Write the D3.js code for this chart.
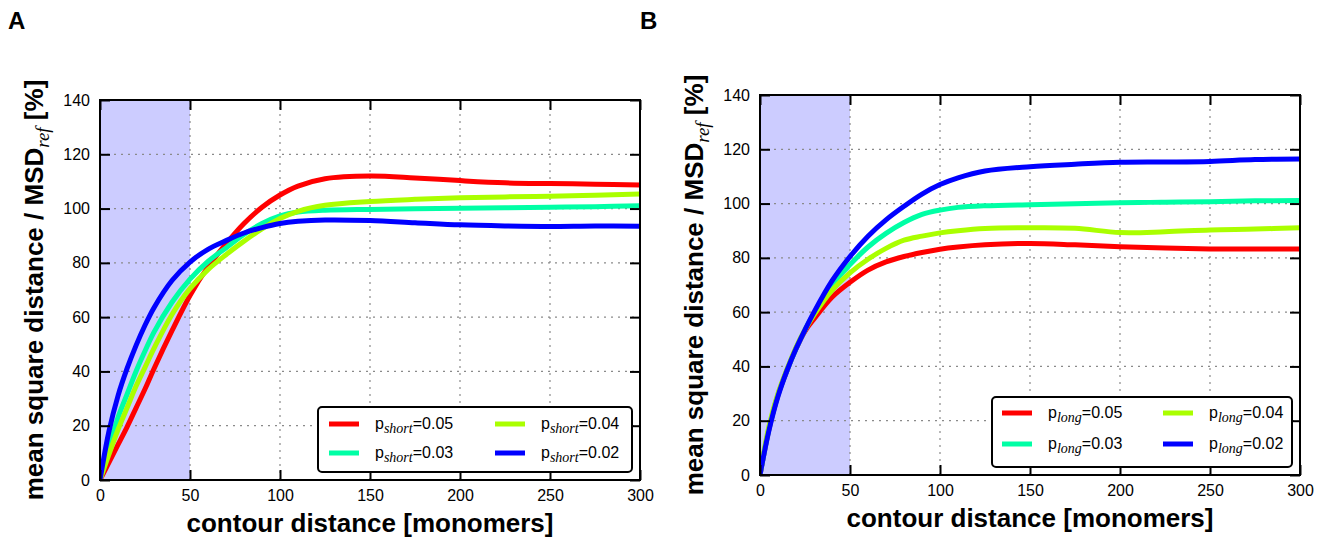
<!DOCTYPE html>
<html>
<head>
<meta charset="utf-8">
<script src="https://cdn.jsdelivr.net/npm/d3@7"></script>
<style>
  body { margin: 0; background: #fff; }
  svg text { font-family: "Liberation Sans", Arial, sans-serif; }
</style>
</head>
<body>
<div id="chart"></div>
<script>
// contour distance sample points (monomers)
const contour = [0, 5, 10, 15, 20, 25, 30, 40, 50, 60, 70, 80, 90, 100, 110, 125, 150, 175, 200, 225, 250, 275, 300];

// panel A: p_short series, MSD / MSD_ref [%]
const short005 = [0, 6.5, 13, 19.5, 26.5, 33.5, 41, 55, 68, 78.5, 87, 94.5, 100.5, 105, 108.3, 111, 112, 111.3, 110.3, 109.5, 109.2, 109, 108.7];
const short003 = [0, 12, 23, 31.5, 40, 47.5, 54.5, 65.5, 74, 80.5, 85.5, 90.5, 94.5, 97.3, 98.7, 99.4, 99.7, 99.9, 100.1, 100.3, 100.5, 100.7, 101];
const short004 = [0, 9.5, 18.5, 26.5, 34.5, 41.5, 48.5, 61, 70.5, 77.5, 83, 88, 92.5, 96.3, 99, 101.2, 102.6, 103.4, 104, 104.3, 104.5, 104.9, 105.4];
const short002 = [0, 18, 31, 41, 49.5, 57, 63.5, 73.5, 80.3, 85, 88.2, 91, 93, 94.5, 95.3, 95.8, 95.6, 94.8, 94, 93.6, 93.4, 93.6, 93.5];

// panel B: p_long series
const long005 = [0, 17, 29.5, 38.5, 46.5, 53, 57.5, 65.5, 71, 75.5, 78.5, 80.5, 82, 83.2, 84, 84.8, 85.3, 84.8, 84.1, 83.6, 83.3, 83.3, 83.3];
const long003 = [0, 17, 29.5, 38.5, 46.5, 53.5, 59.5, 70, 77.5, 84, 89, 93, 96, 97.6, 98.6, 99.2, 99.6, 99.9, 100.3, 100.5, 100.7, 101, 101.1];
const long004 = [0, 18, 30, 39, 47, 53.5, 59, 68, 74.5, 79.5, 83.5, 86.5, 88, 89.2, 90, 90.8, 91.1, 90.9, 89.3, 89.6, 90.3, 90.6, 91.1];
const long002 = [0, 16.5, 29, 38.5, 46.5, 53.5, 60, 71.5, 80.5, 88, 94, 99, 103.5, 107, 109.5, 112, 113.6, 114.5, 115.2, 115.3, 115.5, 116.2, 116.4];

// legend values (same order as plotted)
const pLabels = ["0.05", "0.03", "0.04", "0.02"];
const xTicks = [0, 50, 100, 150, 200, 250, 300];
const yTicks = [0, 20, 40, 60, 80, 100, 120, 140];
const shadedRange = [0, 50];

const colors = ["#ff0000", "#00ffa5", "#aaff00", "#0000ff"];

const svg = d3.select('#chart')
  .append('svg')
  .attr('width', 1327)
  .attr('height', 546);

function drawPanel(opt) {
  const width = opt.right - opt.left;
  const height = opt.bottom - opt.top;

  const x = d3.scaleLinear().domain([0, 300]).range([0, width]);
  const y = d3.scaleLinear().domain([0, 140]).range([height, 0]);

  const g = svg.append('g')
    .attr('transform', 'translate(' + opt.left + ',' + opt.top + ')');

  // shaded region
  g.append('rect')
    .attr('x', x(shadedRange[0]))
    .attr('y', 0)
    .attr('width', x(shadedRange[1]) - x(shadedRange[0]))
    .attr('height', height)
    .attr('fill', '#ccccff');

  // dotted grid
  g.selectAll('.hgrid')
    .data(yTicks.slice(1, -1))
    .enter().append('line')
    .attr('x1', 0).attr('x2', width)
    .attr('y1', d => y(d)).attr('y2', d => y(d))
    .attr('stroke', '#8a8a8a')
    .attr('stroke-width', 1.2)
    .attr('stroke-dasharray', '2,5');
  g.selectAll('.vgrid')
    .data(xTicks.slice(1, -1))
    .enter().append('line')
    .attr('y1', 0).attr('y2', height)
    .attr('x1', d => x(d)).attr('x2', d => x(d))
    .attr('stroke', '#8a8a8a')
    .attr('stroke-width', 1.2)
    .attr('stroke-dasharray', '2,5');

  // curves
  g.append('clipPath').attr('id', 'clip' + opt.name)
    .append('rect').attr('width', width).attr('height', height);

  const line = d3.line()
    .x((d, i) => x(contour[i]))
    .y(d => y(d))
    .curve(d3.curveCatmullRom.alpha(0.5));

  g.append('g')
    .attr('clip-path', 'url(#clip' + opt.name + ')')
    .selectAll('path')
    .data(opt.series)
    .enter().append('path')
    .attr('d', d => line(d))
    .attr('fill', 'none')
    .attr('stroke', (d, i) => colors[i])
    .attr('stroke-width', 5);

  // axes with inward ticks
  const axL = g.append('g')
    .call(d3.axisLeft(y).tickValues(yTicks).tickSize(-10).tickPadding(10));
  const axB = g.append('g')
    .attr('transform', 'translate(0,' + height + ')')
    .call(d3.axisBottom(x).tickValues(xTicks).tickSize(-10).tickPadding(10));
  const axR = g.append('g')
    .attr('transform', 'translate(' + width + ',0)')
    .call(d3.axisRight(y).tickValues(yTicks).tickSize(-10).tickFormat(''));
  const axT = g.append('g')
    .call(d3.axisTop(x).tickValues(xTicks).tickSize(-10).tickFormat(''));

  [axL, axB, axR, axT].forEach(a => {
    a.select('.domain').remove();
    a.selectAll('line').attr('stroke', '#000').attr('stroke-width', 2);
    a.selectAll('text').attr('font-size', 16).attr('fill', '#000')
      .style('font-family', '"Liberation Sans", Arial, sans-serif');
  });

  // frame
  g.append('rect')
    .attr('width', width).attr('height', height)
    .attr('fill', 'none')
    .attr('stroke', '#000')
    .attr('stroke-width', 2);

  // x title
  g.append('text')
    .attr('x', width / 2)
    .attr('y', height + 52)
    .attr('text-anchor', 'middle')
    .attr('font-size', 26)
    .attr('font-weight', 'bold')
    .text('contour distance [monomers]');

  // y title
  const yt = svg.append('text')
    .attr('transform', 'translate(' + opt.ytitleX + ',' + (opt.top + height / 2) + ') rotate(-90)')
    .attr('text-anchor', 'middle')
    .attr('font-size', 26)
    .attr('font-weight', 'bold');
  yt.append('tspan').text('mean square distance / MSD');
  yt.append('tspan').attr('dy', 6)
    .attr('font-size', 19).attr('font-weight', 'normal').attr('font-style', 'italic')
    .style('font-family', '"Liberation Serif", "Times New Roman", serif')
    .text('ref');
  yt.append('tspan').attr('dy', -6).text(' [%]');

  // panel letter
  svg.append('text')
    .attr('x', opt.letterX)
    .attr('y', 29)
    .attr('font-size', 24)
    .attr('font-weight', 'bold')
    .text(opt.name);

  // legend
  const lg = opt.legend;
  const leg = g.append('g')
    .attr('transform', 'translate(' + (width - 8 - lg.w) + ',' + (height - 8 - lg.h) + ')');
  leg.append('rect')
    .attr('width', lg.w).attr('height', lg.h)
    .attr('rx', 4)
    .attr('fill', '#fff')
    .attr('stroke', '#000')
    .attr('stroke-width', 2);

  pLabels.forEach((p, i) => {
    const col = Math.floor(i / 2);
    const row = i % 2;
    const ex = lg.col[col];
    const ey = lg.row[row];
    leg.append('line')
      .attr('x1', ex).attr('x2', ex + 30)
      .attr('y1', ey).attr('y2', ey)
      .attr('stroke', colors[i])
      .attr('stroke-width', 5);
    const t = leg.append('text')
      .attr('x', ex + 46)
      .attr('y', ey + 5)
      .attr('font-size', 16);
    t.append('tspan').text('p');
    t.append('tspan').attr('dy', 4)
      .attr('font-size', 14).attr('font-style', 'italic')
      .style('font-family', '"Liberation Serif", "Times New Roman", serif')
      .text(opt.sub);
    t.append('tspan').attr('dy', -4).text('=' + p);
  });
}

drawPanel({
  name: 'A', left: 100, right: 640, top: 100, bottom: 480,
  ytitleX: 43, letterX: 8, sub: 'short',
  series: [short005, short003, short004, short002],
  legend: { w: 314, h: 65, col: [11, 177], row: [17, 46] }
});

drawPanel({
  name: 'B', left: 760, right: 1300, top: 95, bottom: 475,
  ytitleX: 703, letterX: 640, sub: 'long',
  series: [long005, long003, long004, long002],
  legend: { w: 300, h: 70, col: [10, 171], row: [16, 47] }
});
</script>
</body>
</html>
